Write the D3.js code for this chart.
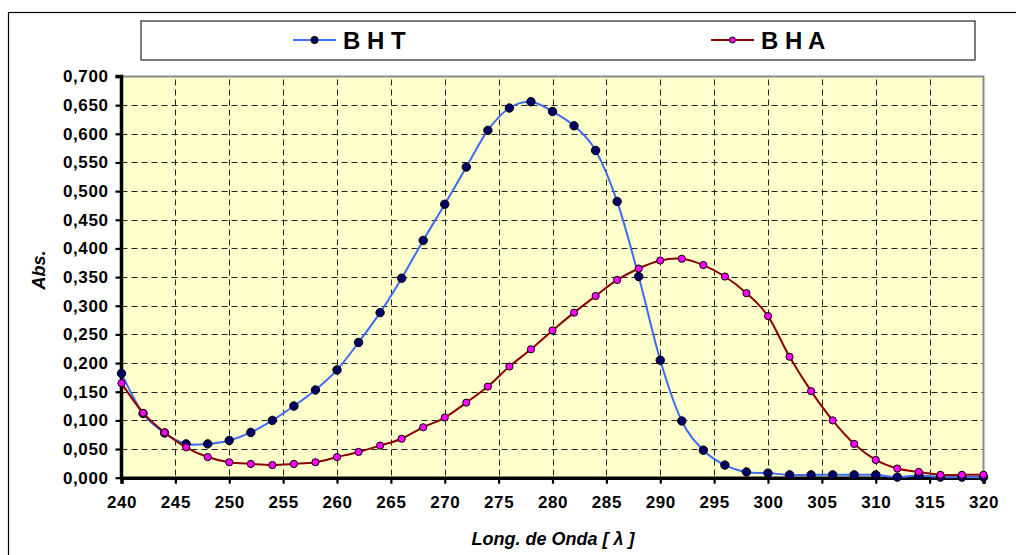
<!DOCTYPE html>
<html>
<head>
<meta charset="utf-8">
<script src="https://cdn.jsdelivr.net/npm/d3@7"></script>
<style>
  body { margin: 0; background: #fff; }
  svg { display: block; font-family: Arial, "Liberation Sans", sans-serif; }
</style>
</head>
<body>
<script>
// wavelength (nm)
const wavelengths = [240, 242, 244, 246, 248, 250, 252, 254, 256, 258, 260, 262, 264, 266, 268, 270,
  272, 274, 276, 278, 280, 282, 284, 286, 288, 290, 292, 294, 296, 298, 300, 302, 304, 306, 308, 310,
  312, 314, 316, 318, 320];

const bht = [0.182, 0.112, 0.078, 0.059, 0.059, 0.065, 0.079, 0.100, 0.125, 0.153, 0.188, 0.236,
  0.288, 0.348, 0.414, 0.477, 0.542, 0.606, 0.645, 0.656, 0.639, 0.614, 0.571, 0.482, 0.351, 0.205,
  0.099, 0.048, 0.022, 0.010, 0.008, 0.005, 0.005, 0.005, 0.005, 0.005, 0.001, 0.004, 0.001, 0.001,
  0.001];

const bha = [0.165, 0.113, 0.079, 0.053, 0.036, 0.027, 0.024, 0.022, 0.024, 0.027, 0.036, 0.045,
  0.056, 0.068, 0.088, 0.105, 0.131, 0.159, 0.194, 0.224, 0.257, 0.288, 0.317, 0.345, 0.365, 0.379,
  0.382, 0.371, 0.351, 0.322, 0.282, 0.211, 0.151, 0.100, 0.059, 0.031, 0.016, 0.010, 0.005, 0.005,
  0.005];

const seriesNames = ["B H T", "B H A"];
const xTicks = d3.range(240, 321, 5);
const yTicks = d3.range(0, 0.7001, 0.05);

const width = 1016;
const height = 555;

const svg = d3.select("body").append("svg")
  .attr("width", width)
  .attr("height", height);

// outer chart frame (runs off the right / bottom edge)
svg.append("rect")
  .attr("x", 8.5).attr("y", 12.5)
  .attr("width", 1040).attr("height", 600)
  .attr("fill", "#fff")
  .attr("stroke", "#000")
  .attr("stroke-width", 1.2);

const x = d3.scaleLinear().domain([240, 320]).range([121.5, 983.5]);
const y = d3.scaleLinear().domain([0, 0.7]).range([477.7, 76.5]);

const fmt = d3.formatLocale({ decimal: ",", thousands: ".", grouping: [3], currency: ["", ""] }).format(".3f");

// plot background
svg.append("rect")
  .attr("x", x(240)).attr("y", y(0.7))
  .attr("width", x(320) - x(240)).attr("height", y(0) - y(0.7))
  .attr("fill", "#ffffcc");

// grid
svg.append("g").selectAll("line")
  .data(yTicks.filter(d => d > 0.001 && d < 0.699))
  .enter().append("line")
  .attr("x1", x(240)).attr("x2", x(320))
  .attr("y1", d => Math.round(y(d)) + 0.5).attr("y2", d => Math.round(y(d)) + 0.5)
  .attr("stroke", "#222")
  .attr("stroke-dasharray", "6,4");

svg.append("g").selectAll("line")
  .data(xTicks.filter(d => d > 240 && d < 320))
  .enter().append("line")
  .attr("x1", d => Math.round(x(d)) + 0.5).attr("x2", d => Math.round(x(d)) + 0.5)
  .attr("y1", y(0.7) + 3).attr("y2", y(0))
  .attr("stroke", "#222")
  .attr("stroke-dasharray", "6,4");

// top / right border of plot area
svg.append("path")
  .attr("d", `M${x(240)},${y(0.7)}H${x(320)}V${y(0)}`)
  .attr("fill", "none")
  .attr("stroke", "#8a8a8a")
  .attr("stroke-width", 2);

// axes
const yAxis = d3.axisLeft(y).tickValues(yTicks).tickFormat(fmt).tickSize(6).tickPadding(7);
const xAxis = d3.axisBottom(x).tickValues(xTicks).tickFormat(d3.format("d")).tickSize(6).tickPadding(12);

const gy = svg.append("g").attr("transform", `translate(${x(240)},0)`).call(yAxis);
const gx = svg.append("g").attr("transform", `translate(0,${y(0)})`).call(xAxis);

[gx, gy].forEach(function (g) {
  g.select(".domain").attr("stroke", "#000").attr("stroke-width", 3.5);
  g.selectAll(".tick line").attr("stroke", "#000").attr("stroke-width", 2.2);
  g.selectAll(".tick text")
    .attr("fill", "#000")
    .attr("font-size", 17)
    .attr("font-weight", "bold")
    .style("letter-spacing", "0.6px");
});
gy.select(".domain").attr("d", `M-6,${y(0.7)}H0V${y(0)}`);

// smooth lines (Excel style)
const line = d3.line()
  .x((d, i) => x(wavelengths[i]))
  .y(d => y(d))
  .curve(d3.curveCatmullRom.alpha(0));

const series = [
  { name: seriesNames[0], values: bht, stroke: "#3a6cf4", fill: "#000066", r: 4.2 },
  { name: seriesNames[1], values: bha, stroke: "#8b0000", fill: "#ff00ff", r: 3.6 }
];

series.forEach(function (s) {
  svg.append("path")
    .attr("d", line(s.values))
    .attr("fill", "none")
    .attr("stroke", s.stroke)
    .attr("stroke-width", 2);

  svg.append("g").selectAll("circle")
    .data(s.values)
    .enter().append("circle")
    .attr("cx", (d, i) => x(wavelengths[i]))
    .attr("cy", d => y(d))
    .attr("r", s.r)
    .attr("fill", s.fill)
    .attr("stroke", "#000")
    .attr("stroke-width", 1);
});

// legend
svg.append("rect")
  .attr("x", 141).attr("y", 21)
  .attr("width", 834).attr("height", 39)
  .attr("fill", "#fff")
  .attr("stroke", "#333")
  .attr("stroke-width", 1.3);

const legendX = [293, 711];
series.forEach(function (s, i) {
  const g = svg.append("g").attr("transform", `translate(${legendX[i]},40)`);
  g.append("line")
    .attr("x1", 0).attr("x2", 43)
    .attr("stroke", s.stroke)
    .attr("stroke-width", 2);
  g.append("circle")
    .attr("cx", 21.5).attr("r", s.r - 0.6)
    .attr("fill", s.fill)
    .attr("stroke", "#000");
  g.append("text")
    .attr("x", 50).attr("y", 8.5)
    .attr("font-size", 24)
    .attr("font-weight", "bold")
    .text(s.name);
});

// axis titles
svg.append("text")
  .attr("transform", "translate(45,270) rotate(-90)")
  .attr("text-anchor", "middle")
  .attr("font-size", 18)
  .attr("font-weight", "bold")
  .attr("font-style", "italic")
  .text("Abs.");

svg.append("text")
  .attr("x", 553).attr("y", 545)
  .attr("text-anchor", "middle")
  .attr("font-size", 18)
  .attr("font-weight", "bold")
  .attr("font-style", "italic")
  .text("Long. de Onda [ λ ]");
</script>
</body>
</html>
